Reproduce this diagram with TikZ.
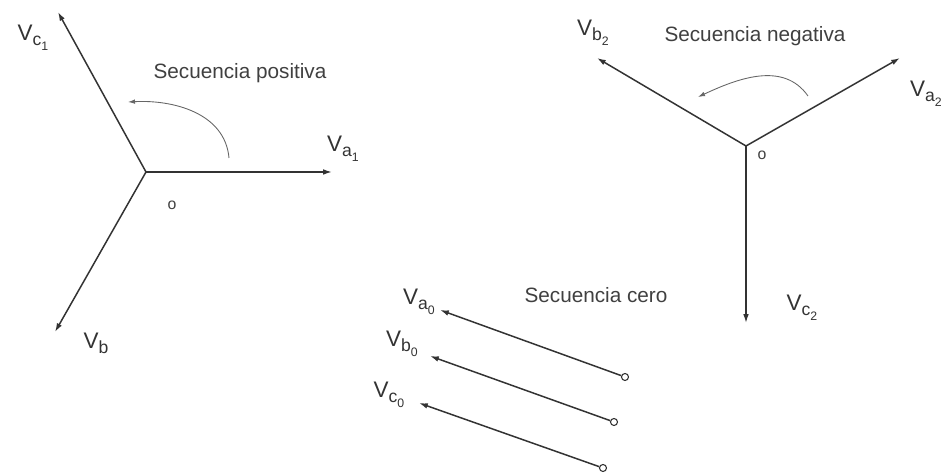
\documentclass[tikz,border=0pt]{standalone}
\usepackage{fontspec}
\setmainfont{Liberation Sans}
\usetikzlibrary{arrows.meta, positioning}

% phasor name: V, a lowered letter, a still lower index
\newcommand{\fasor}[2]{V\raisebox{-0.45ex}{\fontsize{10}{12}\selectfont #1\raisebox{-0.55ex}{\fontsize{7}{8}\selectfont #2}}}

\begin{document}
\begin{tikzpicture}[
    x=0.02cm, y=-0.02cm,
    vec/.style={-{Latex[length=5pt,width=3.2pt]}, line width=0.85pt, draw=black!80},
    turn/.style={-{Latex[length=4pt,width=2.6pt]}, line width=0.5pt, draw=black!60},
    lbl/.style={font=\fontsize{12.8}{15}\selectfont, text=black!80, inner sep=1pt},
    seq/.style={font=\fontsize{11.8}{14}\selectfont, text=black!75, inner sep=1pt},
    orig/.style={font=\fontsize{9}{10}\selectfont, text=black!75, inner sep=0pt},
    tail/.style={circle, draw=black!80, fill=white, inner sep=0pt, minimum size=4pt, line width=0.6pt}
]
\useasboundingbox (0,0) rectangle (941,475);

% positive sequence
\coordinate (o1) at (146,172);
\coordinate (a1) at (332,172);
\coordinate (b1) at (55,332);
\coordinate (c1) at (58,12);
\draw[vec] (o1) -- (a1);
\draw[vec] (o1) -- (b1);
\draw[vec] (o1) -- (c1);
\node[lbl] (la1) at (343,149) {\fasor{a}{1}};
\node[lbl] (lb1) at (96,346) {\fasor{b}{}};
\node[lbl] (lc1) at (33,38) {\fasor{c}{1}};
\node[orig] (no1) at (172,205) {o};
\node[seq] (pos) at (240,73) {Secuencia positiva};
\coordinate (p1s) at (229,158);
\coordinate (p1e) at (128,102);
\draw[turn] (p1s) to[out=95, in=3] (p1e);

% negative sequence
\coordinate (o2) at (746,146);
\coordinate (a2) at (900,58);
\coordinate (b2) at (597,58);
\coordinate (c2) at (746,323);
\draw[vec] (o2) -- (a2);
\draw[vec] (o2) -- (b2);
\draw[vec] (o2) -- (c2);
\node[lbl, anchor=west] (la2) at (908,94) {\fasor{a}{2}};
\node[lbl] (lb2) at (593,33) {\fasor{b}{2}};
\node[lbl] (lc2) at (802,308) {\fasor{c}{2}};
\node[orig] (no2) at (762,155) {o};
\node[seq] (neg) at (755,36) {Secuencia negativa};
\coordinate (n2s) at (808,96);
\coordinate (n2e) at (698,97);
\draw[turn] (n2s) to[out=125, in=25] (n2e);

% zero sequence
\node[tail] (ta0) at (625,377) {};
\node[tail] (tb0) at (614,422) {};
\node[tail] (tc0) at (603,468) {};
\coordinate (a0) at (440,310);
\coordinate (b0) at (430,356);
\coordinate (c0) at (419,403);
\draw[vec] (ta0) -- (a0);
\draw[vec] (tb0) -- (b0);
\draw[vec] (tc0) -- (c0);
\node[lbl] (la0) at (419,302) {\fasor{a}{0}};
\node[lbl] (lb0) at (402,344) {\fasor{b}{0}};
\node[lbl] (lc0) at (389,395) {\fasor{c}{0}};
\node[seq] (cero) at (596,295) {Secuencia cero};

\end{tikzpicture}
\end{document}
